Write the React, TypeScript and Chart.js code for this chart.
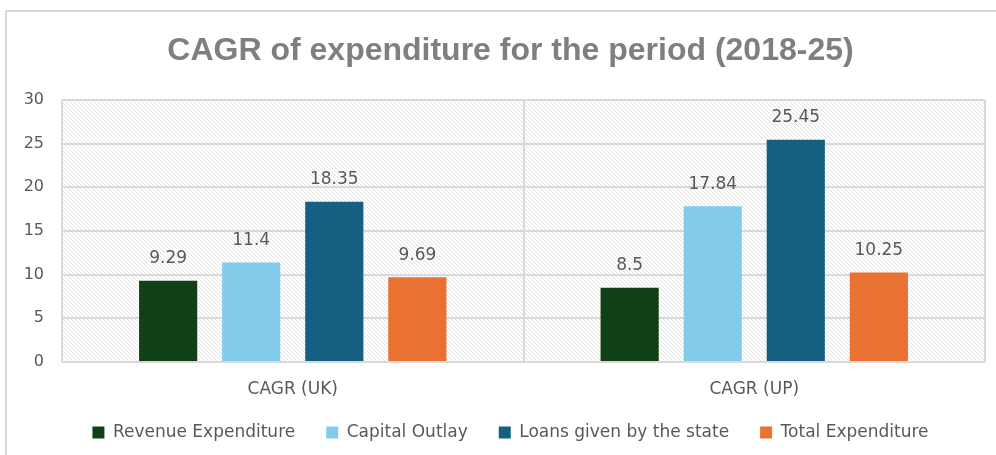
import React, { useEffect, useRef } from "react";
import { Chart, registerables } from "chart.js";

Chart.register(...registerables);

const categories = ["CAGR (UK)", "CAGR (UP)"];
const seriesNames = [
  "Revenue Expenditure",
  "Capital Outlay",
  "Loans given by the state",
  "Total Expenditure",
];
const revenueExpenditure = [9.29, 8.5];
const capitalOutlay = [11.4, 17.84];
const loansGiven = [18.35, 25.45];
const totalExpenditure = [9.69, 10.25];
const seriesColors = ["#124016", "#83CBEB", "#156082", "#E97132"];
const yTicks = [0, 5, 10, 15, 20, 25, 30];

const TEXT = "#595959";
const GRID = "#d9d9d9";
const FONT = "'DejaVu Sans', sans-serif";

function makePattern(ctx: CanvasRenderingContext2D) {
  const c = document.createElement("canvas");
  c.width = 4;
  c.height = 4;
  const p = c.getContext("2d")!;
  p.fillStyle = "#ffffff";
  p.fillRect(0, 0, 4, 4);
  p.fillStyle = "#e2e2e2";
  for (let i = 0; i < 4; i++) p.fillRect(i, i, 1, 1);
  return ctx.createPattern(c, "repeat");
}

const backgroundPlugin = {
  id: "bgHatch",
  beforeDraw(chart: any) {
    const { ctx, chartArea } = chart;
    ctx.save();
    ctx.fillStyle = "#ffffff";
    ctx.fillRect(0, 0, chart.width, chart.height);
    ctx.strokeStyle = GRID;
    ctx.lineWidth = 2;
    ctx.strokeRect(6, 11, chart.width + 20, chart.height + 20);
    const pat = makePattern(ctx);
    if (pat) {
      ctx.fillStyle = pat;
      ctx.fillRect(
        chartArea.left,
        chartArea.top,
        chartArea.right - chartArea.left,
        chartArea.bottom - chartArea.top
      );
    }
    ctx.restore();
  },
};

const legendShiftPlugin = {
  id: "legendShift",
  afterLayout(chart: any) {
    if (chart.legend) {
      chart.legend.top -= 4;
      chart.legend.bottom -= 4;
    }
  },
};

const labelPlugin = {
  id: "barLabels",
  afterDatasetsDraw(chart: any) {
    const { ctx } = chart;
    ctx.save();
    ctx.fillStyle = TEXT;
    ctx.font = `17px ${FONT}`;
    ctx.textAlign = "center";
    ctx.textBaseline = "middle";
    chart.data.datasets.forEach((ds: any, i: number) => {
      const meta = chart.getDatasetMeta(i);
      meta.data.forEach((bar: any, j: number) => {
        ctx.fillText(String(ds.data[j]), bar.x, bar.y - 22);
      });
    });
    ctx.restore();
  },
};

export default function App() {
  const ref = useRef<HTMLCanvasElement>(null);
  useEffect(() => {
    if (!ref.current) return;
    const values = [revenueExpenditure, capitalOutlay, loansGiven, totalExpenditure];
    const chart = new Chart(ref.current, {
      type: "bar",
      data: {
        labels: categories,
        datasets: seriesNames.map((name, i) => ({
          label: name,
          data: values[i],
          backgroundColor: seriesColors[i],
          borderWidth: 0,
          barPercentage: 0.7,
          categoryPercentage: 0.72,
        })),
      },
      options: {
        responsive: false,
        animation: false,
        layout: { padding: { left: 25, right: 0, top: 0, bottom: 0 } },
        plugins: {
          title: {
            display: true,
            text: "CAGR of expenditure for the period (2018-25)",
            color: "#7F7F7F",
            font: { family: "'Liberation Sans', Arial, sans-serif", size: 32, weight: "bold" },
            padding: { top: 32, bottom: 29.6 },
          },
          legend: {
            position: "bottom",
            labels: {
              color: TEXT,
              font: { family: FONT, size: 17 },
              boxWidth: 12,
              boxHeight: 12,
              padding: 31,
            },
          },
          tooltip: { enabled: false },
        },
        scales: {
          x: {
            grid: { color: GRID, lineWidth: 2, offset: true, drawTicks: false },
            border: { display: false },
            ticks: { color: TEXT, font: { family: FONT, size: 17 }, padding: 17 },
            afterFit: (s: any) => {
              s.height = 35;
            },
          },
          y: {
            min: 0,
            max: 30,
            afterBuildTicks: (s: any) => {
              s.ticks = yTicks.map((v) => ({ value: v }));
            },
            grid: { color: GRID, lineWidth: 2, drawTicks: false },
            border: { display: false },
            ticks: { color: TEXT, font: { family: FONT, size: 16 }, padding: 18 },
            afterFit: (s: any) => {
              s.width = 37;
            },
          },
          yRight: {
            position: "right",
            min: 0,
            max: 30,
            grid: { display: false, drawTicks: false },
            border: { display: false },
            ticks: { display: false },
            afterFit: (s: any) => {
              s.width = 11;
            },
          },
        },
      },
      plugins: [backgroundPlugin, legendShiftPlugin, labelPlugin],
    });
    return () => chart.destroy();
  }, []);
  return (
    <div style={{ position: "fixed", left: 0, top: 0, width: 996, height: 455 }}>
      <canvas ref={ref} width={996} height={455} />
    </div>
  );
}
